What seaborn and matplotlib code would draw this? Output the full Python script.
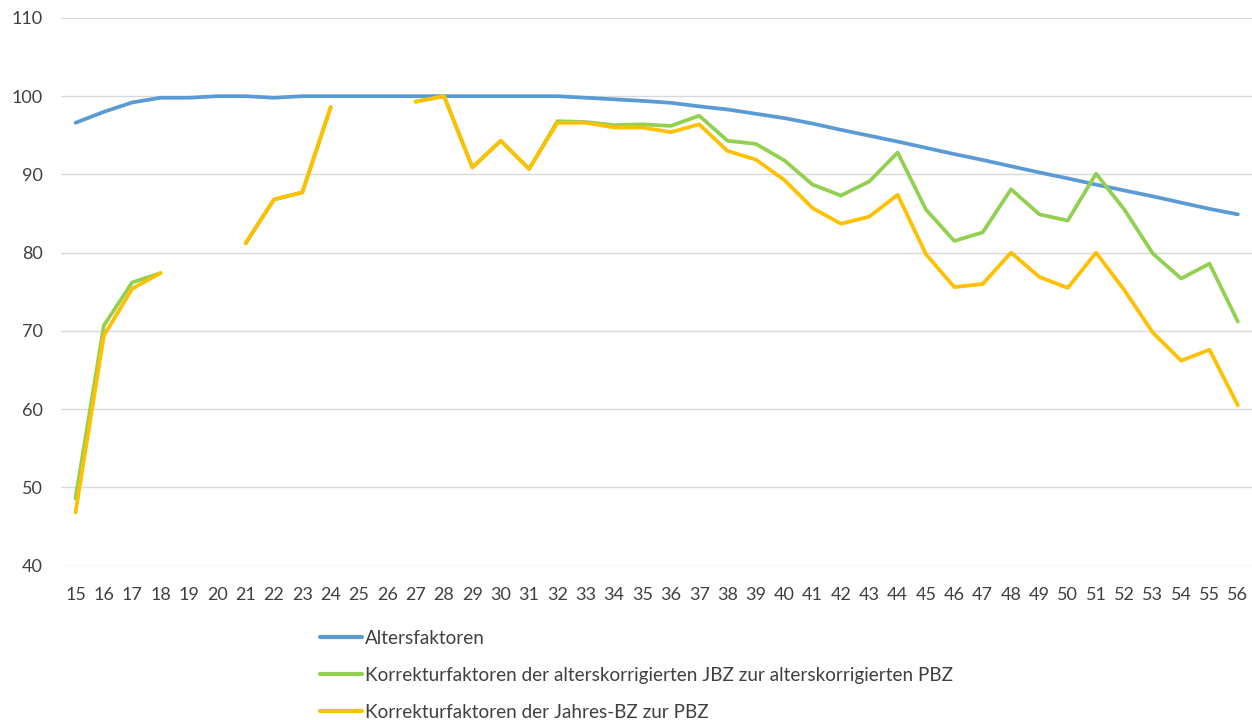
import numpy as np
import pandas as pd
import matplotlib
matplotlib.use("Agg")
import matplotlib.pyplot as plt
import seaborn as sns
from matplotlib.lines import Line2D

nan = np.nan
ages = list(range(15, 57))

alter = [96.6, 98.0, 99.2, 99.8, 99.8, 100.0, 100.0, 99.8, 100.0, 100.0,
         100.0, 100.0, 100.0, 100.0, 100.0, 100.0, 100.0, 100.0, 99.8, 99.6,
         99.4, 99.15, 98.7, 98.3, 97.75, 97.2, 96.5, 95.7, 94.95, 94.2,
         93.4, 92.6, 91.85, 91.05, 90.25, 89.5, 88.7, 87.95, 87.2, 86.4,
         85.6, 84.9]

korr_alt = [48.6, 70.7, 76.2, 77.4, nan, nan, 81.2, 86.8, 87.7, 98.6,
            nan, nan, 99.3, 100.0, 90.9, 94.3, 90.7, 96.8, 96.7, 96.3,
            96.4, 96.2, 97.5, 94.3, 93.9, 91.8, 88.7, 87.3, 89.1, 92.8,
            85.5, 81.5, 82.6, 88.1, 84.9, 84.1, 90.1, 85.5, 79.9, 76.7,
            78.6, 71.2]

korr_jahr = [46.8, 69.4, 75.4, 77.4, nan, nan, 81.2, 86.8, 87.7, 98.6,
             nan, nan, 99.3, 100.0, 90.9, 94.3, 90.7, 96.6, 96.6, 96.0,
             96.0, 95.4, 96.4, 93.0, 91.9, 89.3, 85.7, 83.7, 84.6, 87.4,
             79.8, 75.6, 76.0, 80.0, 76.9, 75.5, 80.0, 75.2, 69.8, 66.2,
             67.6, 60.5]

names = ["Altersfaktoren",
         "Korrekturfaktoren der alterskorrigierten JBZ zur alterskorrigierten PBZ",
         "Korrekturfaktoren der Jahres-BZ zur PBZ"]
colors = ["#5B9BD5", "#92D050", "#FFC000"]

rows = []
for name, vals in zip(names, [alter, korr_alt, korr_jahr]):
    seg = 0
    prev_nan = False
    for a, v in zip(ages, vals):
        if np.isnan(v):
            prev_nan = True
            continue
        if prev_nan:
            seg += 1
            prev_nan = False
        rows.append({"age": a, "value": v, "series": name, "seg": f"{name}_{seg}"})
df = pd.DataFrame(rows)

sns.set_style("white")
plt.rcParams["font.family"] = ["Lato", "DejaVu Sans"]

fig = plt.figure(figsize=(12.52, 7.2), dpi=100)
ax = fig.add_axes([0.049, 0.2143, 0.951, 0.7608])

sns.lineplot(data=df, x="age", y="value", hue="series", units="seg",
             estimator=None, hue_order=names, palette=dict(zip(names, colors)),
             linewidth=2.7, legend=False, ax=ax, solid_capstyle="round")

ax.set_xlim(14.5, 56.5)
ax.set_ylim(40, 110)
ax.set_yticks(range(40, 111, 10))
ax.set_xticks(ages)
ax.set_xlabel("")
ax.set_ylabel("")
for s in ax.spines.values():
    s.set_visible(False)
ax.grid(axis="y", color="#D9D9D9", linewidth=1.0)
ax.grid(axis="x", visible=False)
ax.set_axisbelow(True)
ax.tick_params(axis="both", length=0, labelsize=13, labelcolor="#404040")
ax.tick_params(axis="y", pad=13.5)
ax.tick_params(axis="x", pad=15)

handles = [Line2D([0], [0], color=c, linewidth=3) for c in colors]
fig.legend(handles, names, loc="upper left", bbox_to_anchor=(0.2496, 0.136),
           frameon=False, fontsize=13.6, labelcolor="#404040",
           handlelength=2.2, handletextpad=0.2, labelspacing=1.07,
           borderaxespad=0)

fig.savefig("out.png", dpi=100)
